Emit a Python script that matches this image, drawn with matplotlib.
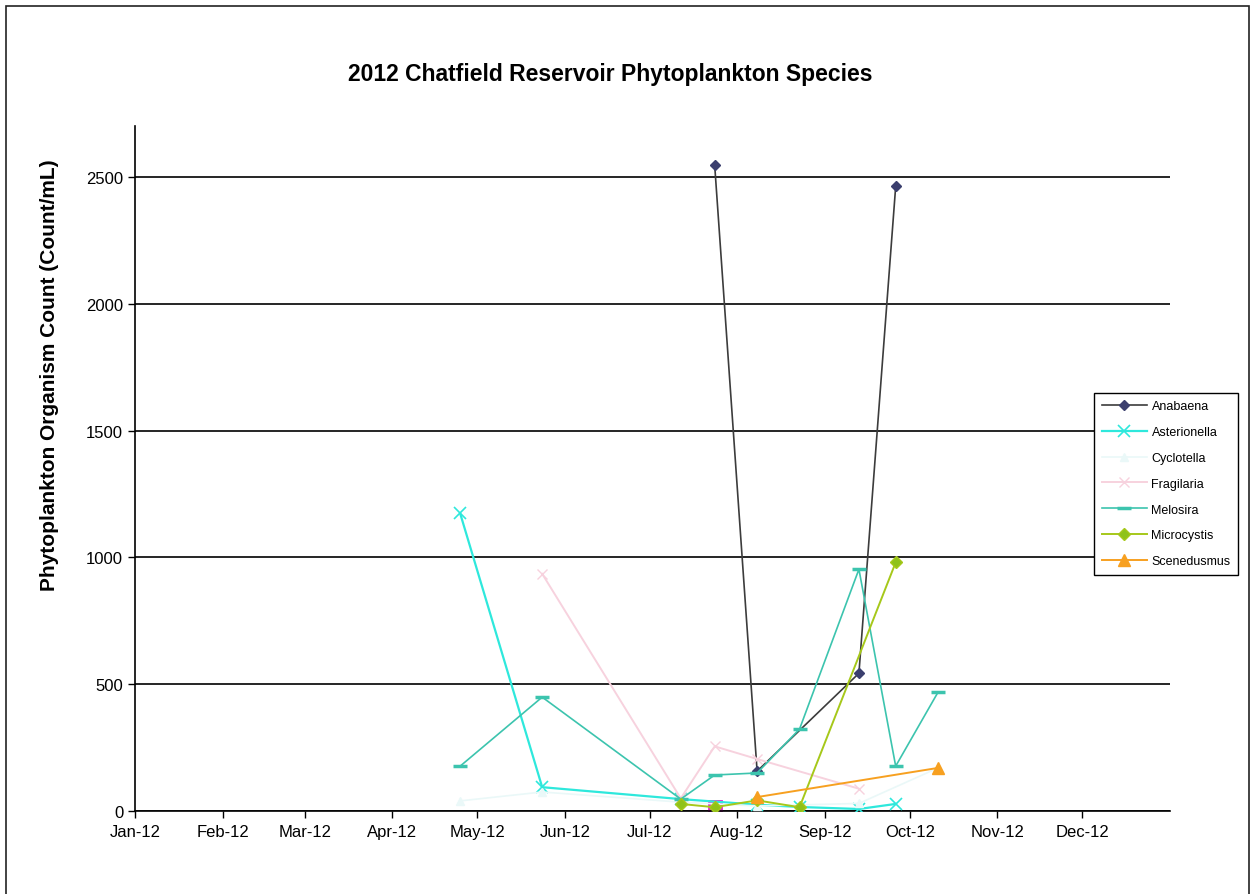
import matplotlib
matplotlib.use('Agg')
import matplotlib.pyplot as plt
from matplotlib.patches import Rectangle
import datetime as dt

plt.rcParams['font.family'] = ['Liberation Sans', 'DejaVu Sans']

# sample dates and counts per species (Count/mL)
anabaena_dates = ['2012-07-24', '2012-08-08', '2012-09-13', '2012-09-26']
anabaena_counts = [2545, 157, 543, 2462]

asterionella_dates = ['2012-04-25', '2012-05-24', '2012-07-12', '2012-08-08',
                      '2012-08-23', '2012-09-13', '2012-09-26']
asterionella_counts = [1173, 94, 47, 25, 16, 8, 28]

cyclotella_dates = ['2012-04-25', '2012-05-24', '2012-07-12', '2012-08-08',
                    '2012-09-13', '2012-10-11']
cyclotella_counts = [40, 75, 35, 20, 30, 170]

fragilaria_dates = ['2012-05-24', '2012-07-12', '2012-07-24', '2012-08-08', '2012-09-13']
fragilaria_counts = [935, 50, 255, 205, 88]

melosira_dates = ['2012-04-25', '2012-05-24', '2012-07-12', '2012-07-24', '2012-08-08',
                  '2012-08-23', '2012-09-13', '2012-09-26', '2012-10-11']
melosira_counts = [177, 449, 47, 142, 150, 323, 953, 177, 469]

microcystis_dates = ['2012-07-12', '2012-07-24', '2012-08-08', '2012-08-23', '2012-09-26']
microcystis_counts = [28, 15, 42, 15, 980]

scenedusmus_dates = ['2012-08-08', '2012-10-11']
scenedusmus_counts = [55, 170]

# single unlabeled sample
other_dates = ['2012-07-24']
other_counts = [15]

month_labels = ['Jan-12', 'Feb-12', 'Mar-12', 'Apr-12', 'May-12', 'Jun-12',
                'Jul-12', 'Aug-12', 'Sep-12', 'Oct-12', 'Nov-12', 'Dec-12']


def to_dates(values):
    return [dt.datetime.strptime(v, '%Y-%m-%d') for v in values]


fig = plt.figure(figsize=(12.52, 8.95), dpi=100)
ax = fig.add_axes([0.1078, 0.0927, 0.8267, 0.7653])

# outer chart frame
fig.patches.append(Rectangle((6 / 1252, -0.01), 1243 / 1252, 1 - 7 / 895 + 0.01,
                             transform=fig.transFigure, fill=False,
                             edgecolor='#222222', linewidth=1.2))

series = [
    ('Anabaena', anabaena_dates, anabaena_counts,
     dict(color='#3c3c3c', marker='D', markersize=5.5, mfc='#3b3f6e', mec='#3b3f6e', lw=1.2)),
    ('Asterionella', asterionella_dates, asterionella_counts,
     dict(color='#2ee8dc', marker='x', markersize=8, mew=1.2, lw=1.6)),
    ('Cyclotella', cyclotella_dates, cyclotella_counts,
     dict(color='#eaf8f8', marker='^', markersize=6, lw=1.2)),
    ('Fragilaria', fragilaria_dates, fragilaria_counts,
     dict(color='#f7d2de', marker='x', markersize=7, lw=1.4)),
    ('Melosira', melosira_dates, melosira_counts,
     dict(color='#3cc4ae', marker='_', markersize=10, mew=2.5, lw=1.2)),
    ('Microcystis', microcystis_dates, microcystis_counts,
     dict(color='#a6c81a', marker='D', markersize=6, mfc='#8fc21a', lw=1.4)),
    ('Scenedusmus', scenedusmus_dates, scenedusmus_counts,
     dict(color='#f7a020', marker='^', markersize=9, lw=1.4)),
]

ax.plot(to_dates(other_dates), other_counts, linestyle='none', marker='s',
        markersize=9, mfc='none', mec='#e020d0', mew=2, zorder=2)

for name, dates, counts, style in series:
    ax.plot(to_dates(dates), counts, label=name, zorder=3, **style)

ax.set_xlim(dt.datetime(2012, 1, 1), dt.datetime(2013, 1, 1))
ax.set_ylim(0, 2700)
ax.set_yticks([0, 500, 1000, 1500, 2000, 2500])
ax.set_xticks([dt.datetime(2012, m, 1) for m in range(1, 13)])
ax.set_xticklabels(month_labels)
ax.tick_params(axis='both', direction='out', length=5, width=1, labelsize=12, colors='black')
ax.tick_params(axis='x', pad=4)

ax.yaxis.grid(True, color='black', linewidth=1.2)
ax.set_axisbelow(True)
for side in ['top', 'right']:
    ax.spines[side].set_visible(False)
for side in ['left', 'bottom']:
    ax.spines[side].set_linewidth(1.2)

fig.text(50 / 1252, 1 - 375 / 895, 'Phytoplankton Organism Count (Count/mL)',
         rotation=90, ha='center', va='center', fontsize=15, fontweight='bold')
fig.text(610 / 1252, 1 - 75 / 895, '2012 Chatfield Reservoir Phytoplankton Species',
         ha='center', va='center', fontsize=16.5, fontweight='bold')

leg = ax.legend(loc='upper left', bbox_to_anchor=(1094 / 1252, 1 - 394 / 895),
                bbox_transform=fig.transFigure, fontsize=9, frameon=True, fancybox=False,
                borderaxespad=0, labelspacing=1.1, handlelength=3.6, borderpad=0.6,
                handletextpad=0.4)
leg.get_frame().set_edgecolor('black')
leg.get_frame().set_linewidth(1.0)
leg.get_frame().set_alpha(1)

fig.savefig('out.png', dpi=100)
